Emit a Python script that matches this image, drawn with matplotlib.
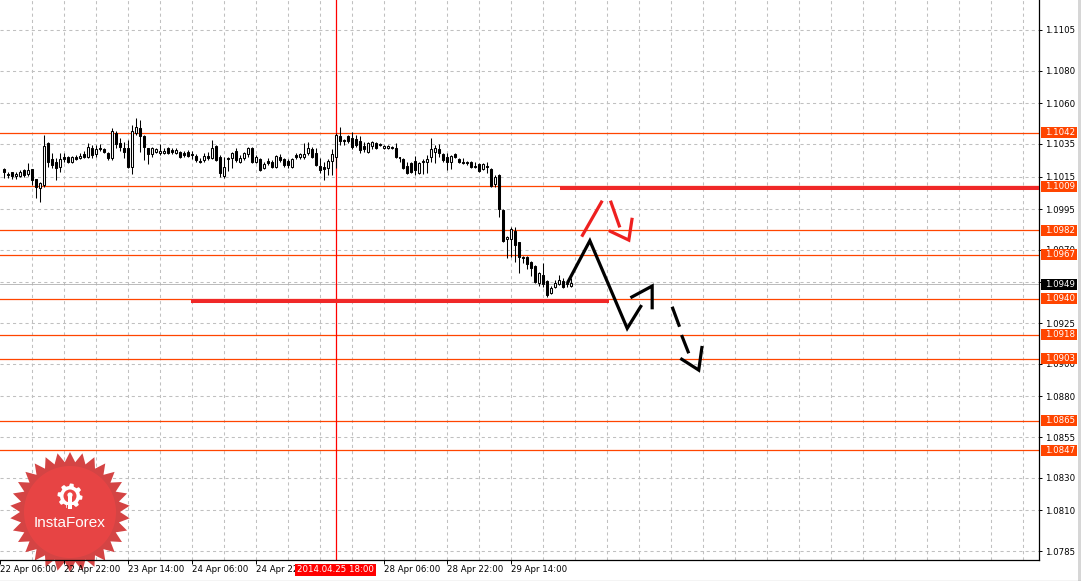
import matplotlib
matplotlib.use("Agg")
import matplotlib.pyplot as plt
from matplotlib.patches import Rectangle, Polygon, Circle
from matplotlib.transforms import Affine2D, blended_transform_factory
import numpy as np

# ---------------- data (EURUSD H1) ----------------
opens = [1.10196, 1.10166, 1.10178, 1.10153, 1.10153, 1.10190, 1.10166, 1.10196, 1.10135, 1.10080,
         1.10098, 1.10356, 1.10258, 1.10239, 1.10209, 1.10270, 1.10270, 1.10239, 1.10270, 1.10264,
         1.10288, 1.10270, 1.10325, 1.10288, 1.10325, 1.10319, 1.10295, 1.10264, 1.10418, 1.10356,
         1.10325, 1.10325, 1.10209, 1.10418, 1.10448, 1.10399, 1.10325, 1.10288, 1.10301, 1.10295,
         1.10295, 1.10325, 1.10313, 1.10295, 1.10301, 1.10295, 1.10301, 1.10288, 1.10276, 1.10245,
         1.10252, 1.10276, 1.10264, 1.10338, 1.10270, 1.10153, 1.10264, 1.10264, 1.10307, 1.10239,
         1.10264, 1.10288, 1.10325, 1.10239, 1.10258, 1.10203, 1.10245, 1.10239, 1.10209, 1.10270,
         1.10258, 1.10245, 1.10209, 1.10282, 1.10270, 1.10270, 1.10295, 1.10319, 1.10295, 1.10215,
         1.10209, 1.10203, 1.10245, 1.10270, 1.10399, 1.10374, 1.10399, 1.10387, 1.10381, 1.10368,
         1.10338, 1.10301, 1.10338, 1.10356, 1.10350, 1.10325, 1.10325, 1.10332, 1.10325, 1.10270,
         1.10258, 1.10215, 1.10233, 1.10245, 1.10172, 1.10239, 1.10239, 1.10270, 1.10301, 1.10319,
         1.10288, 1.10270, 1.10239, 1.10288, 1.10258, 1.10239, 1.10239, 1.10239, 1.10215, 1.10227,
         1.10196, 1.10215, 1.10196, 1.10104, 1.10160, 1.09945, 1.09767, 1.09767, 1.09816, 1.09748,
         1.09656, 1.09656, 1.09625, 1.09601, 1.09496, 1.09546, 1.09509, 1.09435, 1.09472, 1.09490,
         1.09509, 1.09490, 1.09478]
highs = [1.10203, 1.10178, 1.10178, 1.10178, 1.10190, 1.10196, 1.10233, 1.10196, 1.10135, 1.10117,
         1.10405, 1.10362, 1.10295, 1.10264, 1.10295, 1.10295, 1.10276, 1.10276, 1.10282, 1.10295,
         1.10307, 1.10356, 1.10344, 1.10344, 1.10350, 1.10325, 1.10301, 1.10448, 1.10430, 1.10387,
         1.10362, 1.10374, 1.10467, 1.10509, 1.10497, 1.10405, 1.10325, 1.10330, 1.10325, 1.10350,
         1.10325, 1.10330, 1.10325, 1.10325, 1.10307, 1.10307, 1.10313, 1.10307, 1.10288, 1.10264,
         1.10295, 1.10301, 1.10374, 1.10344, 1.10282, 1.10270, 1.10270, 1.10301, 1.10325, 1.10282,
         1.10301, 1.10332, 1.10332, 1.10282, 1.10264, 1.10239, 1.10264, 1.10252, 1.10282, 1.10288,
         1.10264, 1.10258, 1.10264, 1.10295, 1.10295, 1.10356, 1.10362, 1.10332, 1.10325, 1.10264,
         1.10239, 1.10258, 1.10319, 1.10418, 1.10454, 1.10381, 1.10405, 1.10424, 1.10405, 1.10399,
         1.10362, 1.10362, 1.10368, 1.10362, 1.10356, 1.10344, 1.10344, 1.10335, 1.10356, 1.10273,
         1.10262, 1.10239, 1.10239, 1.10276, 1.10239, 1.10258, 1.10282, 1.10387, 1.10344, 1.10350,
         1.10295, 1.10295, 1.10282, 1.10295, 1.10264, 1.10264, 1.10245, 1.10245, 1.10239, 1.10233,
         1.10233, 1.10239, 1.10203, 1.10160, 1.10163, 1.09950, 1.09785, 1.09840, 1.09840, 1.09750,
         1.09660, 1.09662, 1.09630, 1.09607, 1.09564, 1.09619, 1.09512, 1.09478, 1.09515, 1.09546,
         1.09527, 1.09503, 1.09527]
lows = [1.10141, 1.10141, 1.10135, 1.10135, 1.10147, 1.10147, 1.10153, 1.10098, 1.10018, 1.09994,
        1.10086, 1.10209, 1.10203, 1.10129, 1.10178, 1.10239, 1.10233, 1.10233, 1.10252, 1.10258,
        1.10264, 1.10264, 1.10264, 1.10270, 1.10307, 1.10295, 1.10252, 1.10252, 1.10325, 1.10307,
        1.10264, 1.10203, 1.10166, 1.10405, 1.10301, 1.10252, 1.10227, 1.10270, 1.10295, 1.10282,
        1.10288, 1.10288, 1.10288, 1.10288, 1.10264, 1.10270, 1.10270, 1.10258, 1.10239, 1.10233,
        1.10239, 1.10252, 1.10258, 1.10245, 1.10147, 1.10141, 1.10184, 1.10203, 1.10239, 1.10233,
        1.10252, 1.10270, 1.10233, 1.10233, 1.10184, 1.10196, 1.10221, 1.10203, 1.10203, 1.10239,
        1.10209, 1.10203, 1.10203, 1.10258, 1.10258, 1.10258, 1.10282, 1.10264, 1.10215, 1.10172,
        1.10129, 1.10160, 1.10160, 1.10203, 1.10344, 1.10344, 1.10356, 1.10319, 1.10332, 1.10295,
        1.10301, 1.10295, 1.10319, 1.10319, 1.10338, 1.10319, 1.10319, 1.10319, 1.10264, 1.10239,
        1.10196, 1.10166, 1.10172, 1.10160, 1.10166, 1.10166, 1.10172, 1.10239, 1.10233, 1.10270,
        1.10239, 1.10190, 1.10196, 1.10264, 1.10233, 1.10227, 1.10221, 1.10203, 1.10203, 1.10178,
        1.10190, 1.10172, 1.10086, 1.10086, 1.09902, 1.09748, 1.09650, 1.09656, 1.09625, 1.09558,
        1.09619, 1.09582, 1.09539, 1.09496, 1.09478, 1.09472, 1.09410, 1.09429, 1.09466, 1.09484,
        1.09466, 1.09472, 1.09472]
closes = [1.10178, 1.10160, 1.10153, 1.10166, 1.10178, 1.10160, 1.10190, 1.10129, 1.10086, 1.10110,
          1.10338, 1.10239, 1.10221, 1.10203, 1.10258, 1.10258, 1.10239, 1.10270, 1.10258, 1.10276,
          1.10270, 1.10332, 1.10282, 1.10319, 1.10319, 1.10301, 1.10264, 1.10430, 1.10350, 1.10332,
          1.10301, 1.10209, 1.10430, 1.10454, 1.10399, 1.10332, 1.10288, 1.10325, 1.10319, 1.10307,
          1.10307, 1.10295, 1.10301, 1.10313, 1.10270, 1.10282, 1.10276, 1.10282, 1.10252, 1.10239,
          1.10276, 1.10264, 1.10325, 1.10252, 1.10172, 1.10209, 1.10258, 1.10295, 1.10252, 1.10264,
          1.10295, 1.10325, 1.10239, 1.10270, 1.10190, 1.10227, 1.10233, 1.10209, 1.10276, 1.10252,
          1.10221, 1.10221, 1.10258, 1.10270, 1.10288, 1.10288, 1.10325, 1.10270, 1.10221, 1.10190,
          1.10196, 1.10245, 1.10288, 1.10405, 1.10368, 1.10368, 1.10368, 1.10332, 1.10344, 1.10313,
          1.10319, 1.10356, 1.10362, 1.10325, 1.10344, 1.10338, 1.10338, 1.10328, 1.10270, 1.10264,
          1.10203, 1.10172, 1.10178, 1.10190, 1.10233, 1.10245, 1.10258, 1.10319, 1.10325, 1.10295,
          1.10252, 1.10239, 1.10276, 1.10270, 1.10239, 1.10236, 1.10233, 1.10209, 1.10209, 1.10184,
          1.10227, 1.10209, 1.10092, 1.10147, 1.09951, 1.09754, 1.09779, 1.09828, 1.09730, 1.09656,
          1.09650, 1.09613, 1.09588, 1.09503, 1.09558, 1.09490, 1.09423, 1.09466, 1.09496, 1.09515,
          1.09472, 1.09496, 1.09494]

# horizontal levels (orange), current bid
levels = [1.1042, 1.1009, 1.0982, 1.0967, 1.0940, 1.0918, 1.0903, 1.0865, 1.0847]
level_labels = ["1.1042", "1.1009", "1.0982", "1.0967", "1.0940", "1.0918", "1.0903", "1.0865", "1.0847"]
bid_price = 1.0949
bid_label = "1.0949"

# right price scale
y_ticks = [1.1105, 1.1080, 1.1060, 1.1035, 1.1015, 1.0995, 1.0970, 1.0950, 1.0925,
           1.0900, 1.0880, 1.0855, 1.0830, 1.0810, 1.0785]
y_tick_labels = ["1.1105", "1.1080", "1.1060", "1.1035", "1.1015", "1.0995", "1.0970", "",
                 "1.0925", "1.0900", "1.0880", "1.0855", "1.0830", "1.0810", "1.0785"]

# time scale (bar index)
x_ticks = [-1, 15, 31, 47, 63, 95, 111, 127]
x_tick_labels = ["22 Apr 06:00", "22 Apr 22:00", "23 Apr 14:00", "24 Apr 06:00", "24 Apr 22:00",
                 "28 Apr 06:00", "28 Apr 22:00", "29 Apr 14:00"]
x_grid = [7 + 8 * n for n in range(32)]
vline_bar = 83
vline_label = "2014.04.25 18:00"

# hand drawn forecast lines (bar index, price)
resist_k = [139.3, 262.0]
resist_p = [1.1008, 1.1008]
support_k = [46.8, 151.4]
support_p = [1.09386, 1.09386]
black_path_k = [141.0, 146.65, 156.0, 159.6]
black_path_p = [1.09495, 1.09756, 1.09218, 1.09361]
black_head_k = [156.8, 162.25, 162.25]
black_head_p = [1.09406, 1.09478, 1.09335]
dash1_k = [167.25, 169.1]
dash1_p = [1.09351, 1.09228]
dash2_k = [169.6, 171.4]
dash2_p = [1.09177, 1.09065]
dash_head_k = [169.3, 173.9, 174.75]
dash_head_p = [1.09034, 1.08962, 1.09110]
red_up_k = [144.6, 149.75]
red_up_p = [1.09781, 1.10002]
red_down_k = [151.8, 154.15]
red_down_p = [1.10002, 1.09838]
red_head_k = [151.4, 156.4, 157.25]
red_head_p = [1.09818, 1.09760, 1.09897]

# ---------------- figure ----------------
W, H = 1081, 581
fig = plt.figure(figsize=(W / 100, H / 100), dpi=100)
fig.patch.set_facecolor("white")
ax = fig.add_axes([0, 21 / H, 1039 / W, 560 / H])
ax.set_facecolor("white")
ax.set_axisbelow(False)

YMIN, YMAX = 1.07796, 1.11234
ax.set_xlim(-0.675, 259.075)
ax.set_ylim(YMIN, YMAX)
ppx = (YMAX - YMIN) / 560.0  # price per pixel

FONT = "DejaVu Sans"
FS = 6.2
ORANGE = "#ff4500"
GRID = "#c0c0c0"

# grid (manual so logo can sit over it)
for yt in y_ticks:
    ax.axhline(yt, color=GRID, lw=0.75, ls=(0, (3, 3)), zorder=0.5)
for xg in x_grid:
    ax.axvline(xg, color=GRID, lw=0.75, ls=(0, (3, 3)), zorder=0.5)

# levels
for lv in levels:
    ax.axhline(lv, color=ORANGE, lw=0.9, zorder=2)
ax.axhline(bid_price, color="#b0b0b0", lw=0.6, zorder=1.8)
ax.axvline(vline_bar, color="#ff0000", lw=0.9, zorder=2)

# candles
idx = np.arange(len(opens))
o = np.array(opens); c = np.array(closes); h = np.array(highs); l = np.array(lows)
ax.vlines(idx, l, h, color="black", lw=0.75, zorder=3)
bull = c >= o
body_bottom = np.minimum(o, c)
body_h = np.maximum(np.abs(c - o), 0.2 * ppx)
ax.bar(idx[bull], body_h[bull], bottom=body_bottom[bull], width=0.5, color="white",
       edgecolor="black", linewidth=0.75, zorder=4)
ax.bar(idx[~bull], body_h[~bull], bottom=body_bottom[~bull], width=0.5, color="black",
       edgecolor="black", linewidth=0.75, zorder=4)

# thick red lines
ax.plot(resist_k, resist_p, color="#f02828", lw=2.9, solid_capstyle="butt", zorder=5)
ax.plot(support_k, support_p, color="#f02828", lw=2.9, solid_capstyle="butt", zorder=5)

# forecast arrows
kw_b = dict(color="black", lw=2.3, solid_capstyle="butt", solid_joinstyle="miter", zorder=6)
ax.plot(black_path_k, black_path_p, **kw_b)
ax.plot(black_head_k, black_head_p, **kw_b)
ax.plot(dash1_k, dash1_p, **kw_b)
ax.plot(dash2_k, dash2_p, **kw_b)
ax.plot(dash_head_k, dash_head_p, **kw_b)
kw_r = dict(color="#ee2020", lw=2.3, solid_capstyle="butt", solid_joinstyle="miter", zorder=6)
ax.plot(red_up_k, red_up_p, **kw_r)
ax.plot(red_down_k, red_down_p, **kw_r)
ax.plot(red_head_k, red_head_p, **kw_r)

# axes styling
for s in ["top", "left"]:
    ax.spines[s].set_visible(False)
for s in ["right", "bottom"]:
    ax.spines[s].set_color("black")
    ax.spines[s].set_linewidth(0.9)
ax.yaxis.tick_right()
ax.set_yticks(y_ticks)
ax.set_yticklabels(y_tick_labels, fontsize=FS, family=FONT)
ax.tick_params(axis="y", length=2.2, width=0.7, pad=2.2, colors="black")
ax.set_xticks(x_ticks)
ax.set_xticklabels(x_tick_labels, fontsize=FS, family=FONT, ha="left")
ax.tick_params(axis="x", length=2.9, width=0.7, pad=1.0, colors="black")

# price boxes on the right scale
bt = blended_transform_factory(ax.transAxes, ax.transData)
bx0 = 1041 / 1039
bw = 36 / 1039
bh = 11 * ppx
for lv, lab in zip(levels, level_labels):
    ax.add_patch(Rectangle((bx0, lv - bh / 2), bw, bh, transform=bt, clip_on=False,
                           facecolor=ORANGE, edgecolor="none", zorder=7))
    ax.text(1045 / 1039, lv, lab, transform=bt, ha="left", va="center", color="white",
            fontsize=FS, family=FONT, clip_on=False, zorder=8)
ax.add_patch(Rectangle((bx0, bid_price - bh / 2), bw, bh, transform=bt, clip_on=False,
                       facecolor="black", edgecolor="none", zorder=7))
ax.text(1045 / 1039, bid_price, bid_label, transform=bt, ha="left", va="center", color="white",
        fontsize=FS, family=FONT, clip_on=False, zorder=8)

# date box under the vertical line
tb = blended_transform_factory(ax.transData, ax.transAxes)
ax.text(vline_bar, -10 / 560, vline_label, transform=tb, ha="center", va="center",
        color="white", fontsize=FS, family=FONT, clip_on=False, zorder=8,
        bbox=dict(boxstyle="square,pad=0.22", facecolor="#ff0000", edgecolor="none"))

# ---------------- InstaForex logo (pixel coordinates) ----------------
T = Affine2D().scale(1 / W, -1 / H).translate(0, 1) + fig.transFigure
cx, cy = 70, 512
n = 30
ang = np.linspace(0, 2 * np.pi, 2 * n, endpoint=False) + np.pi / 2
rad = np.where(np.arange(2 * n) % 2 == 0, 60, 50)
star = np.column_stack([cx + rad * np.cos(ang), cy + rad * np.sin(ang)])
ax.add_patch(Polygon(star, closed=True, transform=T, clip_on=False,
                     facecolor="#d44444", edgecolor="none", zorder=1))
ax.add_patch(Circle((cx, cy), 46, transform=T, clip_on=False,
                    facecolor="#f04444", edgecolor="none", alpha=0.7, zorder=1.05))
# gear icon
gx, gy = 70, 496
gt = np.linspace(0, 2 * np.pi, 64, endpoint=False)
gr = np.where((np.arange(64) // 4) % 2 == 0, 12.5, 10)
gear = np.column_stack([gx + gr * np.cos(gt), gy + gr * np.sin(gt)])
ax.add_patch(Polygon(gear, closed=True, transform=T, clip_on=False,
                     facecolor="white", edgecolor="none", zorder=1.2))
ax.add_patch(Circle((gx, gy), 6.5, transform=T, clip_on=False,
                    facecolor="#ec4444", edgecolor="none", zorder=1.25))
ax.add_patch(Rectangle((gx - 1.6, gy), 3.2, 13, transform=T, clip_on=False,
                       facecolor="white", edgecolor="none", zorder=1.3))
ax.add_patch(Rectangle((gx - 3.5, gy + 9), 7, 5, transform=T, clip_on=False,
                       facecolor="#ec4444", edgecolor="none", zorder=1.27))
ax.add_patch(Circle((gx, gy - 1), 2.6, transform=T, clip_on=False,
                    facecolor="white", edgecolor="none", zorder=1.3))
ax.text(70, 523, "InstaForex", transform=T, ha="center", va="center", color="white",
        fontsize=11, family="Liberation Sans", clip_on=False, zorder=1.3)

# window borders
ax.add_patch(Rectangle((1078, 0), 3, 581, transform=T, clip_on=False,
                       facecolor="#d6d6d6", edgecolor="none", zorder=0.2))
ax.plot([0, 1081], [580.5, 580.5], transform=T, color="#404040", lw=0.8, clip_on=False, zorder=9)

fig.savefig("out.png", dpi=100, facecolor="white")
